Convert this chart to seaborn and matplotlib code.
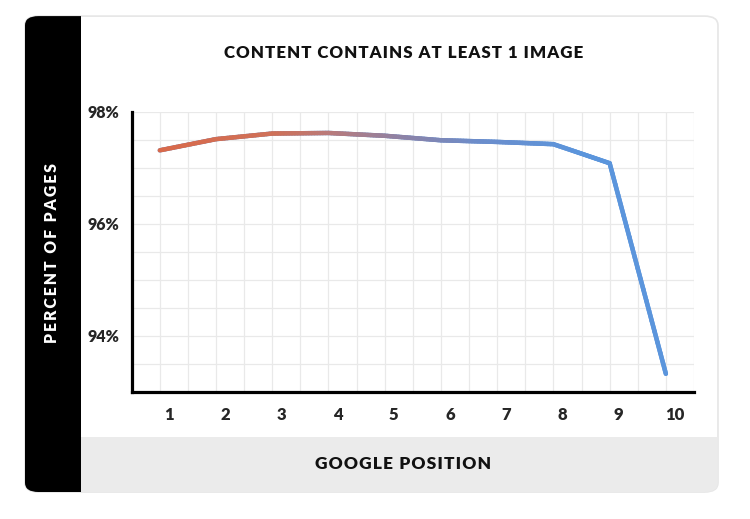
import numpy as np
import pandas as pd
import seaborn as sb
import matplotlib
matplotlib.use("Agg")
import matplotlib.pyplot as plt
import matplotlib.transforms as mtransforms
from matplotlib.patches import FancyBboxPatch, Rectangle
from matplotlib.collections import LineCollection
from matplotlib.colors import LinearSegmentedColormap

# values
positions = [1, 2, 3, 4, 5, 6, 7, 8, 9, 10]
percent_pages = [97.31, 97.51, 97.61, 97.62, 97.57, 97.49, 97.46, 97.42, 97.08, 93.32]
y_ticks = [94, 96, 98]
y_tick_labels = ["94%", "96%", "98%"]

title_text = "CONTENT CONTAINS AT LEAST 1 IMAGE"
y_label_text = "PERCENT OF PAGES"
x_label_text = "GOOGLE POSITION"


def spaced(text, gap):
    # poor man's letter spacing
    return gap.join(text)


df = pd.DataFrame({"position": positions, "percent": percent_pages})

sb.set_style("white")
plt.rcParams["font.family"] = ["Lato", "DejaVu Sans"]

fig = plt.figure(figsize=(7.5, 5.19), dpi=100)
fig.patch.set_facecolor("white")

# card background with black side band and grey bottom band
card = FancyBboxPatch((0.0333, 0.052), 0.924, 0.917,
                      boxstyle="round,pad=0,rounding_size=0.018",
                      transform=fig.transFigure, facecolor="white",
                      edgecolor="#e6e6e6", linewidth=1.2, zorder=-3)
fig.patches.append(card)
side = Rectangle((0.0333, 0.052), 0.0747, 0.917, transform=fig.transFigure,
                 facecolor="black", edgecolor="none", zorder=-2)
side.set_clip_path(card)
fig.patches.append(side)
bottom = Rectangle((0.108, 0.052), 0.85, 0.106, transform=fig.transFigure,
                   facecolor="#ebebeb", edgecolor="none", zorder=-2)
bottom.set_clip_path(card)
fig.patches.append(bottom)

ax = fig.add_axes([0.1756, 0.2453, 0.7497, 0.5395])
ax.set_facecolor("none")

sb.lineplot(data=df, x="position", y="percent", ax=ax, color="#5b95dc",
            linewidth=3.2, zorder=2)

# gradient overlay: orange on the left fading into blue on the right
cmap = LinearSegmentedColormap.from_list(
    "grad", [(0.0, "#d9694a"), (0.28, "#cf7159"), (0.42, "#b67b7e"),
             (0.58, "#8d82a6"), (0.76, "#6c8dcb"), (1.0, "#5b95dc")])
xs, ys = [], []
for i in range(len(positions) - 1):
    t = np.linspace(0, 1, 20, endpoint=False)
    xs.extend(positions[i] + t * (positions[i + 1] - positions[i]))
    ys.extend(percent_pages[i] + t * (percent_pages[i + 1] - percent_pages[i]))
xs.append(positions[-1])
ys.append(percent_pages[-1])
pts = np.column_stack([xs, ys]).reshape(-1, 1, 2)
segs = np.concatenate([pts[:-1], pts[1:]], axis=1)
mid = (np.array(xs[:-1]) + np.array(xs[1:])) / 2
lc = LineCollection(segs, colors=cmap(np.clip((mid - 1) / 7.5, 0, 1)),
                    linewidth=3.2, capstyle="round", joinstyle="round", zorder=3)
ax.add_collection(lc)

ax.set_xlim(0.5, 10.5)
ax.set_ylim(93, 98)
ax.set_xticks(positions)
ax.set_xticks(np.arange(0.5, 10.51, 0.5), minor=True)
ax.set_yticks(y_ticks)
ax.set_yticks(np.arange(93, 98.01, 0.5), minor=True)
ax.set_yticklabels(y_tick_labels)
ax.grid(which="minor", color="#e9e9e9", linewidth=0.9)
ax.grid(which="major", color="#e9e9e9", linewidth=0.9)
ax.set_axisbelow(True)
ax.tick_params(which="both", length=0)
ax.tick_params(axis="x", pad=11, labelsize=12)
ax.tick_params(axis="y", pad=9, labelsize=11.5)
for lab in ax.get_xticklabels() + ax.get_yticklabels():
    lab.set_fontweight("heavy")
offset = mtransforms.ScaledTranslation(9 / 100, 0, fig.dpi_scale_trans)
for lab in ax.get_xticklabels():
    lab.set_transform(lab.get_transform() + offset)
ax.set_xlabel("")
ax.set_ylabel("")

for side_name in ["top", "right"]:
    ax.spines[side_name].set_visible(False)
for side_name in ["left", "bottom"]:
    ax.spines[side_name].set_color("black")
    ax.spines[side_name].set_linewidth(2.3)

fig.text(0.538, 1 - 53 / 519, spaced(title_text, "\u200a"), ha="center",
         va="center", fontsize=12.2, fontweight="heavy", color="#111111")
fig.text(0.537, 1 - 464 / 519, spaced(x_label_text, "\u200a"), ha="center",
         va="center", fontsize=12.5, fontweight="heavy", color="#111111")
fig.text(52 / 750, 1 - 253 / 519, spaced(y_label_text, "\u2009"),
         ha="center", va="center", rotation=90, fontsize=11.3,
         fontweight="heavy", color="white")

fig.savefig("out.png", dpi=100, facecolor="white")
